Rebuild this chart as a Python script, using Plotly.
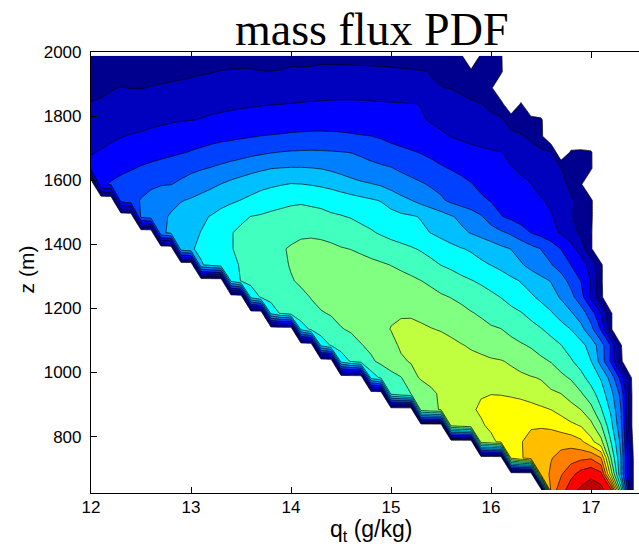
import plotly.graph_objects as go

# q_t bin centres (g/kg) and heights (m)
qt = [round(12.0 + 0.1 * j, 1) for j in range(56)]
zlev = [633, 683, 733, 784, 834, 884, 934, 984, 1035, 1085, 1135, 1185, 1235, 1286,
        1336, 1386, 1436, 1486, 1537, 1587, 1637, 1687, 1737, 1788, 1838, 1888, 1938, 1988]

# mass-flux PDF values, one row per height (bottom to top), one column per q_t bin
pdf = [
    [0]*46 + [13.4, 14.5, 15.6, 16.2, 16.5, 16.35, 15.2, 8.5, 1.3, 0],
    [0]*45 + [12.4, 13.15, 13.9, 14.7, 15.4, 15.8, 15.3, 10.5, 6.0, 1.3, 0],
    [0]*42 + [11.1, 11.9, 12.4, 12.8, 12.95, 13.3, 13.6, 13.8, 13.9, 13.05, 9.0, 6.0, 1.3, 0],
    [0]*39 + [10.5, 10.8, 11.2, 11.6, 11.95, 12.3, 12.5, 12.65, 12.7, 12.6, 12.2, 11.3, 10.3,
              8.0, 5.7, 1.2, 0],
    [0]*36 + [10.1, 10.4, 10.7, 10.9, 11.15, 11.4, 11.6, 11.8, 11.9, 11.9, 11.8, 11.5, 11.2,
              10.95, 10.3, 9.1, 7.3, 5.2, 1.1, 0],
    [0]*33 + [9.5, 9.85, 10.05, 10.4, 10.7, 10.9, 11.1, 11.3, 11.45, 11.55, 11.55, 11.4, 11.2,
              11.0, 10.7, 10.35, 10.0, 9.3, 8.1, 6.8, 5.0, 1.1, 0],
    [0]*30 + [8.3, 8.8, 9.0, 9.45, 9.8, 10.15, 10.4, 10.65, 10.85, 10.95, 10.98, 10.95, 10.85,
              10.7, 10.5, 10.3, 10.15, 10.0, 9.6, 9.1, 8.4, 7.5, 6.3, 4.7, 1.1, 0],
    [0]*28 + [7.4, 8.2, 8.6, 8.95, 9.7, 10.1, 10.3, 10.45, 10.55, 10.6, 10.6, 10.55, 10.45,
              10.35, 10.25, 10.15, 10.05, 9.95, 9.6, 9.2, 8.9, 8.3, 7.6, 6.9, 5.6, 3.6, 1.05, 0],
    [0]*25 + [7.4, 8.1, 8.5, 8.85, 9.2, 9.6, 9.9, 10.05, 10.15, 10.25, 10.3, 10.3, 10.3, 10.25,
              10.2, 10.1, 10.05, 9.9, 9.7, 9.45, 9.2, 8.95, 8.6, 8.1, 7.6, 7.02, 5.6, 3.8, 1.15,
              0, 0],
    [0]*23 + [7.3, 8.1, 8.4, 8.65, 8.95, 9.2, 9.5, 9.8, 10.1, 10.25, 10.35, 10.35, 10.3, 10.2,
              10.05, 9.9, 9.75, 9.6, 9.45, 9.3, 9.1, 8.9, 8.6, 8.3, 8.02, 7.6, 7.3, 6.6, 5.45,
              3.9, 1.05, 0, 0],
    [0]*21 + [7.3, 8.2, 8.5, 8.75, 8.95, 9.1, 9.35, 9.6, 9.85, 10.02, 10.1, 10.15, 10.1, 10.03,
              9.95, 9.8, 9.6, 9.4, 9.25, 9.1, 9.02, 8.75, 8.5, 8.3, 8.05, 7.75, 7.4, 6.98, 6.3,
              5.3, 3.9, 1.1, 0, 0, 0],
    [0]*18 + [7.3, 8.15, 8.5, 8.7, 8.85, 8.95, 9.05, 9.25, 9.45, 9.6, 9.75, 9.85, 9.92, 9.95,
              9.93, 9.85, 9.7, 9.55, 9.35, 9.2, 9.05, 8.9, 8.7, 8.5, 8.25, 8.05, 7.75, 7.45,
              7.1, 6.6, 6.1, 5.5, 4.5, 3.02, 1.1, 0, 0, 0],
    [0]*16 + [7.3, 8.1, 8.35, 8.55, 8.7, 8.85, 9.02, 9.2, 9.4, 9.55, 9.7, 9.8, 9.85, 9.85, 9.8,
              9.7, 9.55, 9.4, 9.25, 9.1, 8.98, 8.85, 8.65, 8.45, 8.2, 7.98, 7.7, 7.4, 7.15, 6.8,
              6.4, 5.9, 5.3, 4.4, 2.8, 1.2, 0, 0, 0, 0],
    [0]*14 + [7.2, 8.05, 8.3, 8.5, 8.65, 8.8, 8.95, 9.1, 9.25, 9.4, 9.5, 9.55, 9.6, 9.6, 9.55,
              9.45, 9.35, 9.25, 9.15, 9.01, 8.85, 8.65, 8.45, 8.25, 8.05, 7.85, 7.65, 7.45,
              7.2, 6.95, 6.6, 6.3, 5.95, 5.4, 4.7, 3.98, 2.95, 1.15, 0, 0, 0, 0],
    [0]*11 + [6.9, 7.3, 7.6, 7.85, 8.05, 8.25, 8.45, 8.65, 8.85, 9.05, 9.2, 9.3, 9.35, 9.4, 9.4,
              9.35, 9.3, 9.2, 9.1, 8.98, 8.85, 8.7, 8.5, 8.25, 7.98, 7.8, 7.55, 7.35, 7.15,
              6.98, 6.75, 6.45, 6.1, 5.7, 5.3, 5.05, 4.6, 3.98, 3.5, 2.6, 1.15, 0, 0, 0, 0],
    [0]*9 + [6.6, 6.9, 7.2, 7.5, 7.7, 7.95, 8.2, 8.4, 8.6, 8.8, 8.95, 9.05, 9.15, 9.2, 9.2,
             9.15, 9.05, 8.98, 8.85, 8.7, 8.55, 8.4, 8.25, 8.1, 7.9, 7.65, 7.45, 7.25, 7.05,
             6.9, 6.7, 6.45, 6.2, 5.98, 5.6, 5.3, 4.98, 4.6, 3.98, 3.4, 2.5, 1.1,
             0, 0, 0, 0, 0],
    [0]*7 + [5.8, 6.2, 6.5, 6.8, 7.02, 7.3, 7.65, 7.95, 8.2, 8.4, 8.55, 8.7, 8.8, 8.85, 8.9,
             8.9, 8.85, 8.75, 8.6, 8.45, 8.25, 8.1, 7.9, 7.7, 7.55, 7.35, 7.15, 6.98, 6.75,
             6.5, 6.2, 5.95, 5.7, 5.45, 5.15, 4.85, 4.45, 3.98, 3.7, 3.3, 2.9, 2.4, 1.8, 1.1,
             0, 0, 0, 0, 0],
    [0]*5 + [5.2, 5.5, 5.8, 6.1, 6.4, 6.65, 6.85, 7.05, 7.3, 7.55, 7.8, 8.02, 8.1, 8.2, 8.25,
             8.3, 8.3, 8.25, 8.2, 8.1, 8.05, 7.95, 7.8, 7.65, 7.5, 7.35, 7.2, 7.1, 6.95, 6.7,
             6.4, 6.1, 5.8, 5.5, 5.1, 4.5, 4.05, 3.8, 3.55, 3.35, 3.2, 3.05, 2.8, 2.1, 1.6,
             1.15, 0, 0, 0, 0, 0],
    [0]*3 + [4.4, 4.7, 5.05, 5.3, 5.55, 5.75, 5.95, 6.1, 6.3, 6.5, 6.7, 6.85, 7.02, 7.2, 7.4,
             7.6, 7.75, 7.85, 7.9, 7.85, 7.8, 7.7, 7.55, 7.4, 7.25, 7.1, 6.95, 6.6, 6.25,
             6.02, 5.7, 5.4, 5.15, 4.8, 4.55, 4.35, 4.15, 3.95, 3.7, 3.5, 3.3, 3.15, 3.05,
             2.9, 2.5, 2.1, 1.7, 1.15, 0, 0, 0, 0, 0],
    [0] + [3.8, 4.1, 4.35, 4.55, 4.7, 4.85, 4.95, 4.98, 5.15, 5.4, 5.6, 5.8, 6.02, 6.25, 6.45,
           6.6, 6.75, 6.85, 6.95, 7.05, 7.02, 6.95, 6.85, 6.7, 6.5, 6.3, 6.15, 6.05, 5.9,
           5.65, 5.45, 5.25, 5.1, 4.9, 4.7, 4.45, 4.25, 4.05, 3.8, 3.6, 3.45, 3.3, 3.15, 3.02,
           2.75, 2.5, 2.2, 1.85, 1.1, 0, 0, 0, 0, 0, 0],
    [3.25, 3.45, 3.6, 3.75, 3.92, 4.1, 4.25, 4.4, 4.55, 4.7, 4.8, 4.93, 5.05, 5.2, 5.35, 5.5,
     5.7, 5.85, 5.98, 6.03, 6.06, 6.06, 6.03, 5.97, 5.85, 5.7, 5.55, 5.4, 5.25, 5.15, 5.05,
     4.85, 4.7, 4.5, 4.3, 4.1, 3.95, 3.8, 3.65, 3.5, 3.35, 3.2, 3.05, 2.9, 2.7, 2.45, 2.2,
     2.02, 1.6, 1.4, 1.12, 0, 0, 0, 0, 0],
    [2.95, 3.05, 3.15, 3.3, 3.4, 3.5, 3.6, 3.7, 3.8, 3.93, 4.05, 4.15, 4.3, 4.45, 4.55, 4.65,
     4.75, 4.85, 4.95, 5.03, 5.08, 5.1, 5.12, 5.1, 5.07, 5.03, 4.98, 4.85, 4.7, 4.55, 4.4,
     4.25, 4.1, 3.95, 3.8, 3.65, 3.5, 3.4, 3.3, 3.2, 3.1, 3.02, 2.8, 2.6, 2.4, 2.2, 2.05, 0,
     1.15, 1.2, 1.1, 0, 0, 0, 0, 0],
    [2.7, 2.8, 2.9, 2.97, 3.05, 3.1, 3.2, 3.3, 3.4, 3.5, 3.6, 3.65, 3.7, 3.75, 3.8, 3.88,
     3.95, 4.02, 4.06, 4.1, 4.15, 4.18, 4.2, 4.2, 4.18, 4.15, 4.1, 4.05, 4.01, 3.9, 3.7,
     3.55, 3.4, 3.3, 3.2, 3.1, 2.98, 2.85, 2.7, 2.6, 2.5, 2.4, 2.25, 2.1, 1.8, 1.2] + [0]*10,
    [2.4, 2.5, 2.58, 2.65, 2.7, 2.75, 2.8, 2.85, 2.9, 2.95, 2.98, 3.03, 3.1, 3.15, 3.2, 3.25,
     3.3, 3.35, 3.4, 3.45, 3.5, 3.52, 3.55, 3.57, 3.58, 3.58, 3.55, 3.5, 3.45, 3.38, 3.3,
     3.2, 3.12, 3.05, 2.95, 2.85, 2.75, 2.65, 2.55, 2.45, 2.3, 2.15, 1.6, 1.45, 1.3, 1.15]
    + [0]*10,
    [2.05, 2.1, 2.2, 2.3, 2.4, 2.45, 2.5, 2.55, 2.6, 2.65, 2.7, 2.75, 2.8, 2.83, 2.86, 2.89,
     2.92, 2.95, 2.97, 2.99, 3.02, 3.06, 3.1, 3.14, 3.17, 3.19, 3.2, 3.18, 3.15, 3.12, 3.09,
     3.06, 3.03, 2.98, 2.85, 2.7, 2.5, 2.3, 2.15, 2.02, 1.7, 1.3, 0, 1.1] + [0]*12,
    [1.75, 1.82, 1.95, 2.03, 1.98, 1.97, 2.04, 2.08, 2.12, 2.15, 2.18, 2.2, 2.22, 2.24, 2.26,
     2.28, 2.3, 2.32, 2.34, 2.36, 2.38, 2.4, 2.42, 2.43, 2.44, 2.44, 2.43, 2.4, 2.36, 2.32,
     2.28, 2.22, 2.16, 2.1, 2.05, 2.02, 1.97, 1.8, 1.6, 1.4, 1.15] + [0]*15,
    [1.45, 1.5, 1.55, 1.6, 1.65, 1.7, 1.72, 1.75, 1.8, 1.85, 1.9, 1.95, 1.98, 2.03, 2.06, 2.07,
     2.06, 2.02, 2.01, 2.03, 2.09, 2.07, 2.08, 2.12, 2.12, 2.12, 2.12, 2.12, 2.12, 2.12, 2.11,
     2.09, 2.07, 2.04, 1.98, 1.8, 1.6, 1.4, 1.2, 1.3, 1.3, 1.15] + [0]*14,
    [1.25, 1.3, 1.33, 1.36, 1.4, 1.43, 1.46, 1.5, 1.53, 1.56, 1.6, 1.62, 1.65, 1.68, 1.7, 1.72,
     1.74, 1.76, 1.78, 1.8, 1.82, 1.84, 1.85, 1.86, 1.86, 1.85, 1.84, 1.82, 1.8, 1.77, 1.74,
     1.7, 1.65, 1.6, 1.55, 1.45, 1.35, 1.15, 0, 1.15, 1.2, 1.1] + [0]*14,
]

# contour levels and MATLAB-jet band colours (one per band above each level)
levels = dict(start=1, end=16, size=1)
band_colors = ['#00008F', '#0000BF', '#0000FF', '#0040FF', '#0080FF', '#00BFFF', '#00FFFF',
               '#40FFBF', '#80FF80', '#BFFF40', '#FFFF00', '#FFBF00', '#FF8000', '#FF4000',
               '#FF0000', '#BF0000']
xticks = [12, 13, 14, 15, 16, 17]
yticks = [800, 1000, 1200, 1400, 1600, 1800, 2000]

nb = len(band_colors)
colorscale = [[0.0, '#FFFFFF']] + [[(k + 1) / nb, c] for k, c in enumerate(band_colors)]

fig = go.Figure(go.Contour(
    x=qt, y=zlev, z=pdf,
    autocontour=False,
    contours=dict(start=levels['start'], end=levels['end'], size=levels['size'],
                  coloring='fill', showlines=True),
    colorscale=colorscale,
    line=dict(color='black', width=0.7, smoothing=0),
    showscale=False,
    hoverinfo='skip',
))

tickfont = dict(family='Liberation Sans, Arial, sans-serif', size=17, color='black')

fig.update_layout(
    width=639, height=547,
    margin=dict(l=91, r=0, t=52, b=54, pad=0),
    paper_bgcolor='white', plot_bgcolor='white',
    showlegend=False,
    xaxis=dict(range=[12, 17.48], tickvals=xticks, ticks='inside', ticklen=6,
               tickcolor='black', tickwidth=1, showline=True, linecolor='black',
               linewidth=1.2, mirror='ticks', showgrid=False, zeroline=False,
               tickfont=tickfont, ticklabelstandoff=-2),
    yaxis=dict(range=[624, 2000], tickvals=yticks, ticks='inside', ticklen=6,
               tickcolor='black', tickwidth=1, showline=True, linecolor='black',
               linewidth=1.2, mirror=False, showgrid=False, zeroline=False,
               tickfont=tickfont, ticklabelstandoff=5),
    annotations=[
        dict(text='mass flux PDF', xref='paper', yref='paper', x=0.511, y=1.05,
             xanchor='center', yanchor='middle', showarrow=False,
             font=dict(family='Liberation Serif, Times New Roman, serif', size=46,
                       color='black')),
        dict(text='q<sub>t</sub> (g/kg)', xref='paper', yref='paper', x=0.511, y=-0.085,
             xanchor='center', yanchor='middle', showarrow=False,
             font=dict(family='Liberation Sans, Arial, sans-serif', size=23, color='black')),
        dict(text='z (m)', xref='paper', yref='paper', x=-0.1186, y=0.507, textangle=-90,
             xanchor='center', yanchor='middle', showarrow=False,
             font=dict(family='Liberation Sans, Arial, sans-serif', size=21, color='black')),
    ],
)

fig.write_html('out.html')
